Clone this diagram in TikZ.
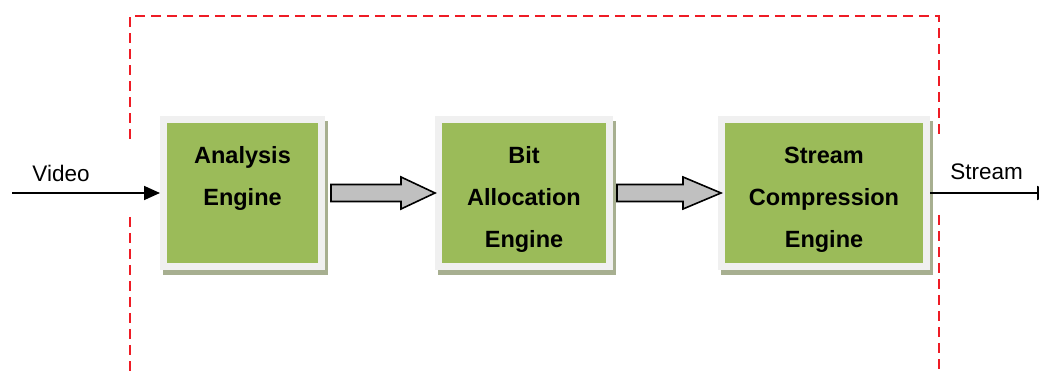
\documentclass[tikz,border=0pt]{standalone}
\usepackage{fontspec}
\setmainfont{Liberation Sans}
\usetikzlibrary{calc,arrows.meta,shadows}
\definecolor{boxgreen}{HTML}{9BBB59}
\definecolor{boxrim}{HTML}{F0F0F0}
\definecolor{boxshadow}{HTML}{A7AF90}
\definecolor{fatgray}{HTML}{C0C0C0}
\definecolor{frame}{HTML}{EE1C25}
\tikzset{
  enginebox/.style={rectangle, fill=boxgreen, draw=boxrim, line width=7pt,
    minimum height=147pt, inner sep=0pt,
    general shadow={fill=boxshadow, draw=boxshadow, line width=7pt, shadow xshift=3pt, shadow yshift=-5pt}},
  enginetext/.style={anchor=north, inner sep=0pt, align=center,
    font=\fontsize{23.5}{42}\selectfont\bfseries},
  iolabel/.style={anchor=base, inner sep=0pt, font=\fontsize{22.5}{27}\selectfont},
  ioline/.style={draw=black, line width=1.8pt, -{Triangle[length=16pt,width=14pt]}},
  fatarrow/.style={draw=black, line width=1.6pt, fill=fatgray, line join=miter},
  dashframe/.style={draw=frame, line width=2pt, dash pattern=on 10pt off 6pt}
}
\begin{document}
\begin{tikzpicture}[x=1pt,y=-1pt]
\useasboundingbox (0,0) rectangle (1039,371);
% dashed frame
\draw[dashframe] (130,139) -- (130,16) -- (939,16) -- (939,135);
\draw[dashframe] (130,217) -- (130,371);
\draw[dashframe] (939,215) -- (939,371);
% boxes
\node[enginebox, minimum width=158pt] (b1) at (242.5,193) {};
\node[enginebox, minimum width=171pt] (b2) at (524,193) {};
\node[enginebox, minimum width=205pt] (b3) at (824,193) {};
\node[enginetext] (t1) at ([yshift=-30.5pt]b1.north) {Analysis\\Engine};
\node[enginetext] (t2) at ([yshift=-30.5pt]b2.north) {Bit\\Allocation\\Engine};
\node[enginetext] (t3) at ([yshift=-30.5pt]b3.north) {Stream\\Compression\\Engine};
% fat arrows
\coordinate (a1t) at ($(b1.east)+(6,0)$);
\coordinate (a1p) at (b2.west);
\coordinate (a1h) at ($(a1p)+(-34,0)$);
\draw[fatarrow] ($(a1t)+(0,-8.5)$) -- ($(a1h)+(0,-8.5)$) -- ($(a1h)+(0,-16)$) -- (a1p)
  -- ($(a1h)+(0,16)$) -- ($(a1h)+(0,8.5)$) -- ($(a1t)+(0,8.5)$) -- cycle;
\coordinate (a2t) at ($(b2.east)+(4,0)$);
\coordinate (a2p) at ($(b3.west)+(3,0)$);
\coordinate (a2h) at ($(a2p)+(-38,0)$);
\draw[fatarrow] ($(a2t)+(0,-8.5)$) -- ($(a2h)+(0,-8.5)$) -- ($(a2h)+(0,-16)$) -- (a2p)
  -- ($(a2h)+(0,16)$) -- ($(a2h)+(0,8.5)$) -- ($(a2t)+(0,8.5)$) -- cycle;
% input / output
\coordinate (vin) at (12,193);
\draw[ioline] (vin) -- (b1.west);
\node[iolabel] (lv) at (61,181.5) {Video};
\coordinate (sout) at (1053,193);
\draw[ioline] (b3.east) -- (sout);
\node[iolabel] (ls) at (986.5,180) {Stream};
\end{tikzpicture}
\end{document}
